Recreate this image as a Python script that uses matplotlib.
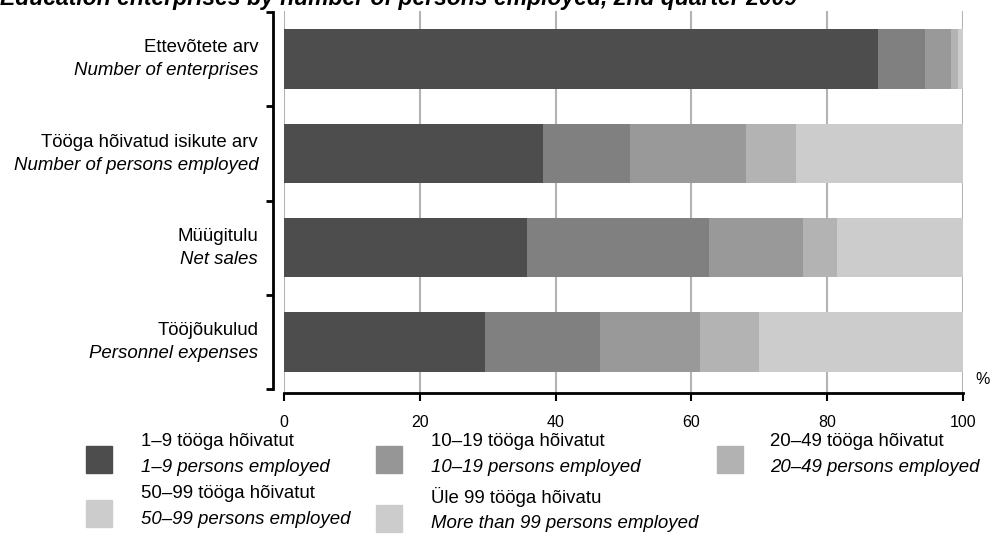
import numpy as np
import matplotlib
matplotlib.use('Agg')
import matplotlib.pyplot as plt
from matplotlib.patches import Rectangle

plt.rcParams['font.family'] = ['Liberation Sans', 'DejaVu Sans']

# categories (Estonian / English)
cat_et = ['Ettevõtete arv', 'Tööga hõivatud isikute arv', 'Müügitulu', 'Tööjõukulud']
cat_en = ['Number of enterprises', 'Number of persons employed', 'Net sales', 'Personnel expenses']

# shares by size class, %
size_1_9 = [87.5, 38.1, 35.8, 29.6]
size_10_19 = [6.9, 12.9, 26.8, 16.9]
size_20_49 = [3.8, 17.0, 13.8, 14.7]
size_50_99 = [1.1, 7.4, 5.0, 8.8]
size_100 = [0.7, 24.6, 18.6, 30.0]

series = [size_1_9, size_10_19, size_20_49, size_50_99, size_100]
bar_colors = ['#4d4d4d', '#808080', '#999999', '#b3b3b3', '#cccccc']
legend_colors = ['#4d4d4d', '#969696', '#b2b2b2', '#cccccc', '#cccccc']
legend_et = ['1–9 tööga hõivatut', '10–19 tööga hõivatut', '20–49 tööga hõivatut',
             '50–99 tööga hõivatut', 'Üle 99 tööga hõivatu']
legend_en = ['1–9 persons employed', '10–19 persons employed', '20–49 persons employed',
             '50–99 persons employed', 'More than 99 persons employed']

title = 'Education enterprises by number of persons employed, 2nd quarter 2009'

W, H = 999, 539
fig = plt.figure(figsize=(W / 100, H / 100), dpi=100)

# axes in pixel coords
x0, x1 = 284, 963
y_top, y_bot = 11, 393
ax = fig.add_axes([x0 / W, 1 - y_bot / H, (x1 - x0) / W, (y_bot - y_top) / H])

y = np.arange(len(cat_et))
left = np.zeros(len(cat_et))
for vals, c in zip(series, bar_colors):
    ax.barh(y, vals, left=left, height=0.63, color=c, zorder=2)
    left += np.array(vals)

ax.set_xlim(0, 100)
ax.set_ylim(3.54, -0.51)
ax.set_xticks(np.arange(0, 101, 20))
ax.grid(axis='x', color='#b3b3b3', linewidth=1.5, zorder=0)
ax.set_axisbelow(True)

for s in ['top', 'right']:
    ax.spines[s].set_visible(False)
ax.spines['left'].set_position(('outward', 8))
ax.spines['left'].set_bounds(-0.5, 3.5)
ax.spines['left'].set_linewidth(2)
ax.spines['bottom'].set_linewidth(2)

ax.set_yticks(np.arange(-0.5, len(cat_et), 1.0))
ax.set_yticklabels([])
ax.tick_params(axis='y', length=5, width=2, direction='out')
ax.tick_params(axis='x', length=6, width=1.5, direction='out', labelsize=11.5, pad=10)

fs = 13.4
for i in y:
    ax.text(-0.038, i - 0.12, cat_et[i], transform=ax.get_yaxis_transform(),
            ha='right', va='center', fontsize=fs)
    ax.text(-0.038, i + 0.125, cat_en[i], transform=ax.get_yaxis_transform(),
            ha='right', va='center', fontsize=fs, style='italic')

fig.text(983 / W, 1 - 380 / H, '%', ha='center', va='center', fontsize=11.5)

fig.text(0.0, 1 + 1 / H, title, ha='left', va='center', fontsize=16.5,
         style='italic', fontweight='bold')

# legend drawn by hand: two lines per entry
sw_x = [86, 376, 717, 86, 376]
sw_y = [446, 446, 446, 500, 505]
tx_x = [141, 431, 770, 141, 431]
tx_y = [441, 441, 441, 493, 497]
for i in range(len(legend_et)):
    fig.add_artist(Rectangle((sw_x[i] / W, 1 - (sw_y[i] + 27) / H), 26 / W, 27 / H,
                             transform=fig.transFigure, color=legend_colors[i]))
    fig.text(tx_x[i] / W, 1 - tx_y[i] / H, legend_et[i], ha='left', va='center',
             fontsize=fs)
    fig.text(tx_x[i] / W, 1 - (tx_y[i] + 26) / H, legend_en[i], ha='left',
             va='center', fontsize=fs, style='italic')

fig.savefig('out.png', dpi=100)
